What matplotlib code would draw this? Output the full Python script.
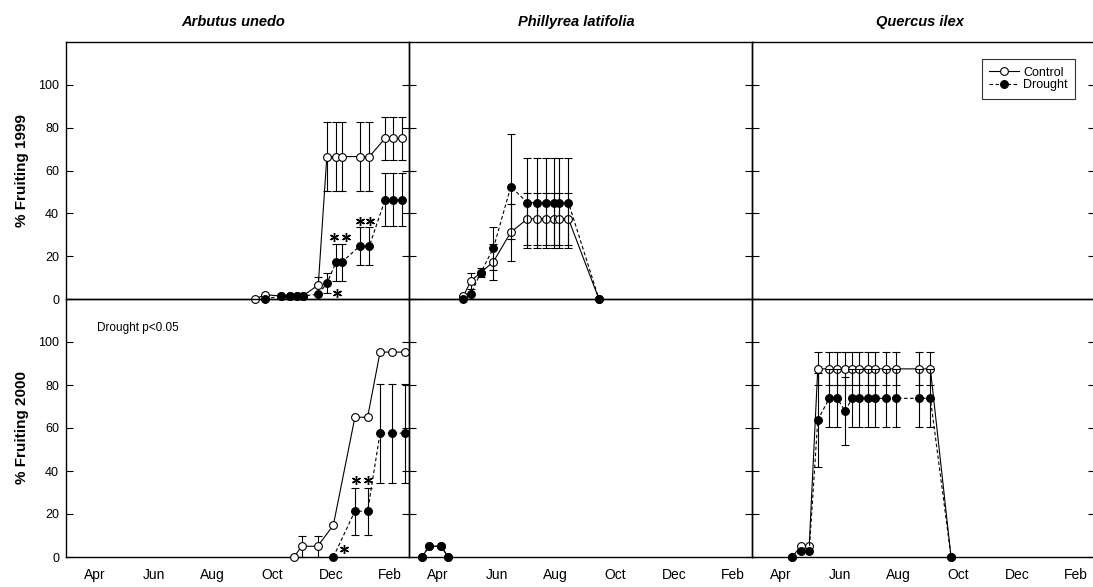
import numpy as np
import matplotlib
matplotlib.use("Agg")
import matplotlib.pyplot as plt
from matplotlib.lines import Line2D

plt.rcParams['font.family'] = ['Liberation Sans', 'DejaVu Sans']

# ---------------- data (x in month units: 4=Apr ... 14=Feb next year) ----------------
month_ticks = [4, 6, 8, 10, 12, 14]
month_labels = ['Apr', 'Jun', 'Aug', 'Oct', 'Dec', 'Feb']
species = ['Arbutus unedo', 'Phillyrea latifolia', 'Quercus ilex']
row_labels = ['% Fruiting 1999', '% Fruiting 2000']
y_ticks = [0, 20, 40, 60, 80, 100]

# Arbutus unedo 1999
a99_c_x = [9.43, 9.77, 10.31, 10.62, 10.84, 11.04, 11.57, 11.86, 12.17, 12.36, 12.98, 13.30, 13.83, 14.11, 14.42]
a99_c_y = [0, 2, 1.4, 1.4, 1.4, 1.4, 6.5, 66.5, 66.5, 66.5, 66.5, 66.5, 75, 75, 75]
a99_c_e = [0, 0, 0, 0, 0, 0, 4, 16, 16, 16, 16, 16, 10, 10, 10]
a99_d_x = [9.77, 10.31, 10.62, 10.84, 11.04, 11.57, 11.86, 12.17, 12.36, 12.98, 13.30, 13.83, 14.11, 14.42]
a99_d_y = [0, 1.4, 1.4, 1.4, 1.4, 2.2, 7.3, 17.1, 17.1, 24.8, 24.8, 46.3, 46.3, 46.3]
a99_d_e = [0, 0, 0, 0, 0, 0, 4.7, 8.6, 8.6, 9, 9, 12.3, 12.3, 12.3]
a99_star_x = [12.11, 12.50, 12.98, 13.32, 12.19]
a99_star_y = [29.1, 29.1, 36.6, 36.6, 2.9]

# Arbutus unedo 2000
a00_c_x = [10.75, 11.01, 11.55, 12.08, 12.81, 13.24, 13.66, 14.08, 14.51]
a00_c_y = [0, 5, 5, 14.8, 65, 65, 95.3, 95.3, 95.3]
a00_c_e = [0, 5, 5, 0, 0, 0, 0, 0, 0]
a00_d_x = [12.08, 12.81, 13.24, 13.66, 14.08, 14.51]
a00_d_y = [0, 21.3, 21.3, 57.6, 57.6, 57.6]
a00_d_e = [0, 11, 11, 23, 23, 23]
a00_star_x = [12.84, 13.24, 12.44]
a00_star_y = [36, 36, 3.6]

# Phillyrea latifolia 1999
p99_c_x = [4.87, 5.13, 5.46, 5.89, 6.48, 7.04, 7.36, 7.67, 7.94, 8.11, 8.43, 9.46]
p99_c_y = [1.2, 8.5, 12.3, 17.4, 31.2, 37.4, 37.4, 37.4, 37.4, 37.4, 37.4, 0]
p99_c_e = [0, 3.8, 0, 8.5, 13.3, 12.3, 12.3, 12.3, 12.3, 12.3, 12.3, 0]
p99_d_x = [4.87, 5.13, 5.46, 5.89, 6.48, 7.04, 7.36, 7.67, 7.94, 8.11, 8.43, 9.46]
p99_d_y = [0, 2.3, 12.3, 23.7, 52.5, 45, 45, 45, 45, 45, 45, 0]
p99_d_e = [0, 0, 2, 10, 24.5, 21, 21, 21, 21, 21, 21, 0]

# Phillyrea latifolia 2000
p00_c_x = [3.47, 3.72, 4.11, 4.37]
p00_c_y = [0, 5, 5, 0]
p00_d_x = [3.47, 3.72, 4.11, 4.37]
p00_d_y = [0, 5, 5, 0]

# Quercus ilex 2000
q00_c_x = [4.40, 4.68, 4.97, 5.26, 5.65, 5.92, 6.18, 6.43, 6.66, 6.95, 7.20, 7.57, 7.91, 8.70, 9.07, 9.77]
q00_c_y = [0, 5, 5, 87.5, 87.5, 87.5, 87.5, 87.5, 87.5, 87.5, 87.5, 87.5, 87.5, 87.5, 87.5, 0]
q00_c_e = [0, 0, 0, 7.7, 7.7, 7.7, 7.7, 7.7, 7.7, 7.7, 7.7, 7.7, 7.7, 7.7, 7.7, 0]
q00_d_x = [4.40, 4.68, 4.97, 5.26, 5.65, 5.92, 6.18, 6.43, 6.66, 6.95, 7.20, 7.57, 7.91, 8.70, 9.07, 9.77]
q00_d_y = [0, 2.6, 2.6, 63.7, 73.8, 73.8, 67.9, 73.8, 73.8, 73.8, 73.8, 73.8, 73.8, 73.8, 73.8, 0]
q00_d_e = [0, 0, 0, 22, 13.5, 13.5, 16, 13.5, 13.5, 13.5, 13.5, 13.5, 13.5, 13.5, 13.5, 0]

# ---------------- layout ----------------
W, H = 1093, 587
fig = plt.figure(figsize=(W / 100, H / 100), dpi=100)
cols = [(66, 409), (409, 752), (752, 1095)]
rows = [(42, 299), (299, 557)]


def rect(x0, x1, yt, yb):
    return [x0 / W, (H - yb) / H, (x1 - x0) / W, (yb - yt) / H]


axes = [[fig.add_axes(rect(c[0], c[1], r[0], r[1])) for c in cols] for r in rows]

DASH = (0, (3.2, 2.2))
LW = 0.8
MS = 5.6


def draw_series(ax, x, y, e, filled):
    x = np.asarray(x, float)
    y = np.asarray(y, float)
    ls = DASH if filled else '-'
    z = 4 if filled else 3
    if e is not None:
        e = np.asarray(e, float)
        m = e > 0
        if m.any():
            ax.errorbar(x[m], y[m], yerr=e[m], fmt='none', ecolor='black',
                        elinewidth=0.8, capsize=2.8, capthick=0.8,
                        clip_on=False, zorder=z - 0.5)
    ax.plot(x, y, linestyle=ls, color='black', lw=LW, marker='o', ms=MS,
            mfc='black' if filled else 'white', mec='black', mew=0.8,
            clip_on=False, zorder=z)


def draw_stars(ax, x, y):
    ax.plot(x, y, linestyle='none', marker=(6, 2, 0), ms=6.5, mew=1.0,
            color='black', clip_on=False, zorder=6)


# top row (1999)
draw_series(axes[0][0], a99_c_x, a99_c_y, a99_c_e, False)
draw_series(axes[0][0], a99_d_x, a99_d_y, a99_d_e, True)
draw_stars(axes[0][0], a99_star_x, a99_star_y)
draw_series(axes[0][1], p99_c_x, p99_c_y, p99_c_e, False)
draw_series(axes[0][1], p99_d_x, p99_d_y, p99_d_e, True)

# bottom row (2000)
draw_series(axes[1][0], a00_c_x, a00_c_y, a00_c_e, False)
draw_series(axes[1][0], a00_d_x, a00_d_y, a00_d_e, True)
draw_stars(axes[1][0], a00_star_x, a00_star_y)
draw_series(axes[1][1], p00_c_x, p00_c_y, None, False)
draw_series(axes[1][1], p00_d_x, p00_d_y, None, True)
draw_series(axes[1][2], q00_c_x, q00_c_y, q00_c_e, False)
draw_series(axes[1][2], q00_d_x, q00_d_y, q00_d_e, True)

for ri, row in enumerate(axes):
    for ci, ax in enumerate(row):
        ax.set_xlim(3.035, 14.64)
        ax.set_ylim(0, 120)
        ax.set_facecolor('none')
        for s in ax.spines.values():
            s.set_linewidth(1.0)
            s.set_color('black')
        ax.set_yticks(y_ticks)
        ax.tick_params(axis='y', direction='in', length=5, width=0.8,
                       left=True, right=True, labelleft=(ci == 0),
                       labelright=False, labelsize=9, pad=5)
        ax.set_xticks(month_ticks)
        if ri == 1:
            ax.set_xticklabels(month_labels)
            ax.tick_params(axis='x', length=0, labelsize=10, pad=8)
        else:
            ax.tick_params(axis='x', length=0, labelbottom=False)

# titles
for ci, name in enumerate(species):
    cx = (cols[ci][0] + cols[ci][1]) / 2 / W
    fig.text(cx - 4 / W, (H - 22) / H, name, ha='center', va='center',
             fontsize=10.5, fontweight='bold', fontstyle='italic')

# row labels
for ri, lab in enumerate(row_labels):
    cy = (H - (rows[ri][0] + rows[ri][1]) / 2) / H
    fig.text(22 / W, cy, lab, rotation=90, ha='center', va='center',
             fontsize=11, fontweight='bold')

axes[1][0].text(0.09, 0.888, 'Drought p<0.05', transform=axes[1][0].transAxes,
                ha='left', va='center', fontsize=8.5)

# legend
handles = [Line2D([], [], color='black', lw=LW, marker='o', ms=MS, mfc='white', mec='black', mew=0.8),
           Line2D([], [], color='black', lw=LW, linestyle=DASH, marker='o', ms=MS, mfc='black', mec='black', mew=0.8)]
leg = axes[0][2].legend(handles, ['Control', 'Drought'], loc='upper right',
                        bbox_to_anchor=(1075 / W, (H - 59) / H), bbox_transform=fig.transFigure,
                        fontsize=9, frameon=True, fancybox=False, borderaxespad=0,
                        handlelength=2.4, handletextpad=0.3, labelspacing=0.05,
                        borderpad=0.6)
leg.get_frame().set_edgecolor('black')
leg.get_frame().set_linewidth(0.8)

fig.savefig('out.png', dpi=100)
